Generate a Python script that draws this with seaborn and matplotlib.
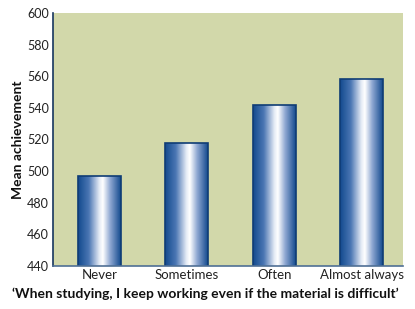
import numpy as np
import pandas as pd
import matplotlib
matplotlib.use("Agg")
import matplotlib.pyplot as plt
import seaborn as sns
from matplotlib.colors import LinearSegmentedColormap

categories = ["Never", "Sometimes", "Often", "Almost always"]
values = [497, 518, 542, 558]
y_ticks = [440, 460, 480, 500, 520, 540, 560, 580, 600]

df = pd.DataFrame({"cat": categories, "val": values})

sns.set_style("white")
plt.rcParams["font.family"] = ["Lato", "DejaVu Sans"]

fig = plt.figure(figsize=(4.15, 3.09), dpi=100)
ax = fig.add_axes([53/415, 1 - 266/309, 350/415, 253/309])
ax.set_facecolor("#d2d8aa")

sns.barplot(data=df, x="cat", y="val", ax=ax, color="#1d5196", width=0.49,
            edgecolor="#0f3c75", linewidth=1.2, saturation=1)

cmap = LinearSegmentedColormap.from_list(
    "bar", [(0.0, "#134a8e"), (0.25, "#4a76b3"), (0.5, "#e6ecf6"),
            (0.58, "#ffffff"), (0.75, "#8fa8d2"), (1.0, "#134a8e")])
grad = np.linspace(0, 1, 256).reshape(1, -1)
ax.set_ylim(440, 600)
ax.set_xlim(-0.53, 3.47)
for p in list(ax.patches):
    x0, y0 = p.get_x(), p.get_y()
    w, h = p.get_width(), p.get_height()
    im = ax.imshow(grad, cmap=cmap, aspect="auto", extent=[x0, x0 + w, 440, y0 + h],
                   zorder=p.get_zorder() + 0.1, interpolation="bilinear")
    im.set_clip_path(p)
    p.set_facecolor("none")
    p.set_zorder(p.get_zorder() + 0.2)
ax.set_ylim(440, 600)
ax.set_xlim(-0.53, 3.47)

ax.set_yticks(y_ticks)
ax.tick_params(axis="y", direction="in", length=8, width=1.2, color="#1f3f6a",
               labelsize=9, labelcolor="#222222", pad=3)
ax.tick_params(axis="x", length=0, labelsize=9.5, labelcolor="#222222", pad=2)
for s in ["top", "right"]:
    ax.spines[s].set_visible(False)
ax.spines["left"].set_color("#17365f")
ax.spines["left"].set_linewidth(1.2)
ax.spines["bottom"].set_color("#4f6f95")
ax.spines["bottom"].set_linewidth(1.2)

ax.set_ylabel("")
fig.text(18/415, 1 - 140/309, "Mean achievement", rotation=90,
         fontsize=10, fontweight="bold", color="#111111", ha="center", va="center")
ax.set_xlabel("")
fig.text(12/415, 1 - 294/309,
         "\u2018When studying, I keep working even if the material is difficult\u2019",
         fontsize=10, fontweight="bold", color="#111111", ha="left", va="center")

fig.savefig("out.png", dpi=100, facecolor="white")
